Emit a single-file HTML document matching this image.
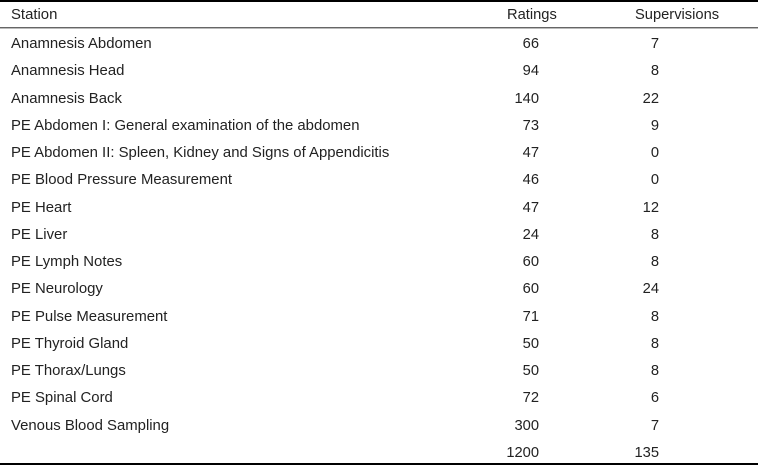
<!DOCTYPE html>
<html>
<head>
<meta charset="utf-8">
<style>
  html, body { margin:0; padding:0; background:#fff; }
  body { width:758px; height:466px; position:relative; overflow:hidden;
         font-family:"Liberation Sans", Arial, sans-serif; font-size:14.7px; color:#222; }
  .t { position:absolute; line-height:20px; white-space:nowrap; }
  .l { left:11px; font-size:14.9px; }
  .r1 { left:439px; width:100px; text-align:right; }
  .r2 { left:559px; width:100px; text-align:right; }
  .line { position:absolute; left:0; width:758px; }
</style>
</head>
<body>
<div class="line" style="top:0;height:2px;background:#000;"></div>
<div class="line" style="top:27px;height:1px;background:#666;"></div>
<div class="line" style="top:28px;height:1px;background:#bbb;"></div>
<div class="line" style="top:463px;height:2px;background:#000;"></div>

<div class="t l" style="top:5px;">Station</div>
<div class="t" style="top:5px;left:507px;">Ratings</div>
<div class="t" style="top:5px;left:635px;">Supervisions</div>

<div class="t l" style="top:34px;">Anamnesis Abdomen</div>
<div class="t r1" style="top:34px;">66</div>
<div class="t r2" style="top:34px;">7</div>

<div class="t l" style="top:61.25px;">Anamnesis Head</div>
<div class="t r1" style="top:61.25px;">94</div>
<div class="t r2" style="top:61.25px;">8</div>

<div class="t l" style="top:88.5px;">Anamnesis Back</div>
<div class="t r1" style="top:88.5px;">140</div>
<div class="t r2" style="top:88.5px;">22</div>

<div class="t l" style="top:115.75px;">PE Abdomen I: General examination of the abdomen</div>
<div class="t r1" style="top:115.75px;">73</div>
<div class="t r2" style="top:115.75px;">9</div>

<div class="t l" style="top:143px;">PE Abdomen II: Spleen, Kidney and Signs of Appendicitis</div>
<div class="t r1" style="top:143px;">47</div>
<div class="t r2" style="top:143px;">0</div>

<div class="t l" style="top:170.25px;">PE Blood Pressure Measurement</div>
<div class="t r1" style="top:170.25px;">46</div>
<div class="t r2" style="top:170.25px;">0</div>

<div class="t l" style="top:197.5px;">PE Heart</div>
<div class="t r1" style="top:197.5px;">47</div>
<div class="t r2" style="top:197.5px;">12</div>

<div class="t l" style="top:224.75px;">PE Liver</div>
<div class="t r1" style="top:224.75px;">24</div>
<div class="t r2" style="top:224.75px;">8</div>

<div class="t l" style="top:252px;">PE Lymph Notes</div>
<div class="t r1" style="top:252px;">60</div>
<div class="t r2" style="top:252px;">8</div>

<div class="t l" style="top:279.25px;">PE Neurology</div>
<div class="t r1" style="top:279.25px;">60</div>
<div class="t r2" style="top:279.25px;">24</div>

<div class="t l" style="top:306.5px;">PE Pulse Measurement</div>
<div class="t r1" style="top:306.5px;">71</div>
<div class="t r2" style="top:306.5px;">8</div>

<div class="t l" style="top:333.75px;">PE Thyroid Gland</div>
<div class="t r1" style="top:333.75px;">50</div>
<div class="t r2" style="top:333.75px;">8</div>

<div class="t l" style="top:361px;">PE Thorax/Lungs</div>
<div class="t r1" style="top:361px;">50</div>
<div class="t r2" style="top:361px;">8</div>

<div class="t l" style="top:388.25px;">PE Spinal Cord</div>
<div class="t r1" style="top:388.25px;">72</div>
<div class="t r2" style="top:388.25px;">6</div>

<div class="t l" style="top:415.5px;">Venous Blood Sampling</div>
<div class="t r1" style="top:415.5px;">300</div>
<div class="t r2" style="top:415.5px;">7</div>

<div class="t r1" style="top:442.75px;">1200</div>
<div class="t r2" style="top:442.75px;">135</div>
</body>
</html>
